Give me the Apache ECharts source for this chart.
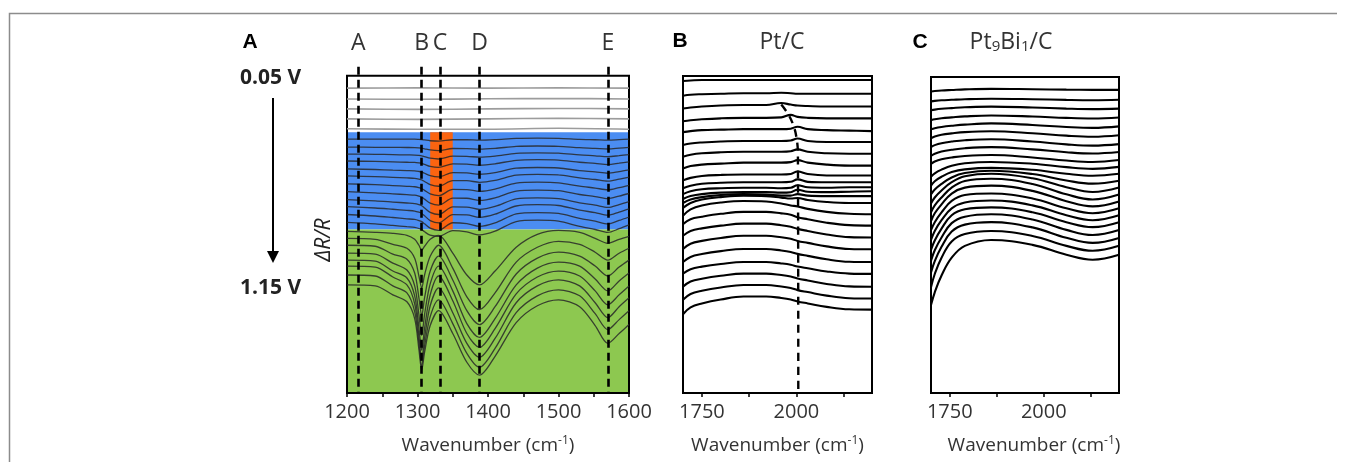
<!DOCTYPE html>
<html>
<head>
<meta charset="utf-8">
<script src="https://cdn.jsdelivr.net/npm/echarts@6/dist/echarts.min.js"></script>
<style>
  html, body { margin: 0; padding: 0; background: #fff; }
  #main { width: 1346px; height: 462px; }
</style>
</head>
<body>
<div id="main"></div>
<script>
// ---- panel A : spectra 1200-1600 cm-1 (values = depth below top of box) ----
var waveGrayA = [1200, 1300, 1400, 1500, 1600];
var grayCurvesA = [
    [12.5, 12.3, 12.5, 12.3, 12.5],
    [23.5, 23.8, 23.3, 23, 23.5],
    [33.5, 34, 33.5, 33, 33.5],
    [43.5, 44, 43.5, 43, 43.5],
    [53.5, 54, 54, 53, 54]
];

var waveA = [1200, 1240, 1265, 1285, 1296, 1302, 1306, 1310, 1318, 1330, 1350,
             1370, 1388, 1410, 1440, 1470, 1500, 1530, 1552, 1570, 1586, 1600];

var blueCurvesA = [
    [64, 64, 64, 64, 64, 64.2, 64.4, 64.8, 65.6, 66, 64.6, 64.6, 65, 64.5, 63.3, 63, 63.2, 64.2, 64.6, 65, 64.5, 64],
    [72, 72.2, 72.3, 72.4, 72.5, 72.8, 73.1, 73.7, 74.9, 75.5, 73.4, 73.5, 74.1, 73.3, 71.3, 70.9, 71.2, 72.6, 73.2, 73.9, 73.1, 72.3],
    [79, 79.3, 79.6, 79.9, 80, 80.4, 80.8, 81.6, 83.2, 84, 81.2, 81.3, 82.2, 81.1, 78.3, 77.8, 78.1, 79.9, 80.8, 81.7, 80.6, 79.5],
    [86, 86.5, 86.9, 87.3, 87.5, 88, 88.5, 89.5, 91.5, 92.5, 89, 89.2, 90.3, 88.9, 85.3, 84.7, 85.1, 87.3, 88.4, 89.6, 88.2, 86.8],
    [94, 94.6, 95.2, 95.7, 96, 96.6, 97.2, 98.4, 100.8, 102, 97.8, 98, 99.4, 97.7, 93.3, 92.6, 93.1, 95.7, 97, 98.4, 96.7, 95],
    [101, 101.8, 102.5, 103.1, 103.5, 104.3, 105.1, 106.7, 109.9, 111.5, 105.9, 105.9, 107.5, 105.5, 100.3, 99.5, 100.1, 103.1, 104.7, 106.3, 104.3, 102.3],
    [109, 109.9, 110.8, 111.6, 112, 112.9, 113.8, 115.6, 119.2, 121, 114.7, 114.8, 116.6, 114.3, 108.3, 107.4, 108, 111.4, 113.3, 115.1, 112.8, 110.5],
    [117, 118.1, 119.1, 120, 120.5, 121.5, 122.5, 124.5, 128.5, 130.5, 123.5, 123.6, 125.7, 123.1, 116.3, 115.3, 116, 119.8, 121.9, 124, 121.4, 118.8],
    [125, 126.2, 127.4, 128.4, 129, 130.1, 131.2, 133.4, 137.8, 140, 132.3, 132.5, 134.8, 131.9, 124.3, 123.2, 124, 128.2, 130.5, 132.8, 129.9, 127],
    [132, 133.4, 134.7, 135.8, 136.5, 137.7, 138.9, 141.3, 146.1, 148.5, 140.1, 140.3, 142.9, 139.7, 131.4, 130.1, 130.9, 135.5, 138.1, 140.7, 137.5, 134.3],
    [140, 141.5, 143, 144.3, 145, 146.1, 147.2, 149.4, 153.8, 156, 148.3, 149.2, 152, 148.5, 139.4, 138, 138.9, 143.9, 146.7, 149.5, 146, 142.5],
    [148, 149.5, 151, 152.3, 153, 154.1, 155.2, 157.4, 160.8, 162, 156.3, 157.6, 160.6, 156.8, 147.1, 145.7, 146.6, 152, 155.1, 158.1, 154.3, 150.5]
];

var greenCurvesA = [
    [157, 158, 159, 161, 165, 171, 176, 172, 165, 161, 179, 201, 211, 197, 173, 160, 156, 158, 164, 169, 165, 162],
    [164, 165, 170, 174, 184, 202, 214, 201, 182, 171, 194, 223, 236, 219, 188, 173, 167, 170, 178, 186, 179, 174],
    [171, 172, 180, 185, 199, 224, 242, 224, 197, 182, 206, 237, 251, 233, 200, 184, 178, 182, 192, 202, 193, 186],
    [179, 180, 189, 196, 212, 241, 262, 241, 210, 192, 217, 250, 264, 245, 211, 194, 188, 192, 205, 217, 207, 199],
    [186, 187, 197, 204, 222, 254, 277, 255, 221, 202, 227, 260, 274, 255, 220, 203, 197, 202, 217, 231, 221, 212],
    [192, 193, 203, 211, 230, 263, 287, 265, 232, 214, 239, 270, 284, 265, 229, 212, 206, 212, 229, 244, 233, 224],
    [201, 202, 212, 219, 238, 270, 293, 273, 243, 226, 250, 280, 294, 275, 239, 222, 216, 222, 240, 256, 246, 237],
    [211, 212, 221, 228, 245, 276, 297, 279, 252, 237, 260, 289, 302, 283, 249, 232, 226, 233, 252, 270, 260, 251]
];

var guideWaveA = [1216, 1306, 1332, 1388, 1570];
var guideLetters = ['A', 'B', 'C', 'D', 'E'];

// ---- panel B : Pt/C ----
var waveB = [1700, 1720, 1750, 1800, 1860, 1920, 1960, 1985, 2003, 2030, 2080, 2140, 2200];
var curvesB = [
    [5, 4.5, 4, 4, 4, 4, 4, 4, 4, 4, 4, 4, 4],
    [20, 19, 18.5, 18, 17.5, 17.5, 17, 17.5, 18, 18, 18, 18, 18],
    [33, 32, 31, 30, 29.5, 29.5, 27.5, 29, 30, 30.5, 31, 31, 31],
    [46, 45, 44, 43, 42.5, 42.5, 42, 39.5, 41.5, 42.5, 43, 43, 43],
    [57, 56, 55, 54.5, 54, 54, 54, 53.5, 51.5, 54, 55, 55.5, 56],
    [70, 68.5, 67.5, 66.5, 66, 66, 66, 65.5, 63.5, 66, 67, 67, 67],
    [82, 80, 78.5, 77.5, 77, 77, 77, 76.5, 74.5, 77, 78.5, 79, 79],
    [94, 91.5, 90, 89, 88, 88, 88, 87.5, 85.5, 88, 90, 91, 91],
    [106, 103.5, 101.5, 100.5, 100, 100, 100, 99.5, 97, 99.5, 101, 101, 101],
    [114, 111.5, 109.5, 108.5, 108, 108, 108, 107.5, 105, 107.5, 108, 108, 108],
    [120, 117, 115, 114, 113.5, 113.5, 114, 113.5, 111, 113, 113.5, 113, 113],
    [125, 122, 120, 118.5, 118, 118, 118.5, 118, 115.5, 117.5, 118, 117.5, 117],
    [129, 125.5, 123, 121, 120, 120.5, 121.5, 121.5, 120, 121.5, 122, 122, 122],
    [134, 129, 125.5, 123, 121.5, 122, 123.5, 124.5, 124, 126, 128, 129, 129],
    [142, 135.5, 131.5, 128.5, 127, 127.5, 129.5, 131.5, 132.5, 135, 138, 140, 140.5],
    [150.5, 145.5, 143, 140, 138, 138, 139.5, 141, 143.5, 145.5, 149, 151.5, 152],
    [162.3, 157.5, 154.8, 152, 150, 150, 151.6, 153.2, 155.3, 157.4, 161, 163.7, 164],
    [175.7, 170.4, 167.5, 164.5, 162.3, 162.3, 163.8, 165.4, 167.5, 169.5, 173.1, 175.7, 176],
    [189, 183.8, 180.9, 177.9, 175.7, 175.7, 177.2, 178.7, 180.7, 182.7, 186.2, 188.7, 189],
    [200.7, 196.2, 193.6, 191, 189, 189, 190.4, 191.7, 193.5, 195.3, 198.5, 200.7, 201],
    [214, 208.8, 205.9, 202.9, 200.7, 200.7, 202.2, 203.7, 205.7, 207.7, 211.2, 213.7, 214],
    [227.3, 221.4, 218.1, 214.8, 212.3, 212.3, 213.8, 215.4, 217.5, 219.5, 223.1, 225.7, 226],
    [242, 235, 231, 227, 224, 224, 225.5, 227, 229, 231, 234.5, 237, 237.3]
];
// peak-shift guide (wavenumber, depth)
var guideB = [[1960, 29], [1977, 38], [1991, 49], [2000, 62], [2004, 80], [2005, 322]];

// ---- panel C : Pt9Bi1/C ----
var waveC = [1700, 1710, 1728, 1755, 1790, 1860, 1970, 2060, 2130, 2200];
var curvesC = [
    [14.7, 14.2, 13.6, 13.1, 12.5, 12, 12.4, 12.8, 13, 13],
    [24.7, 24.2, 23.6, 23.1, 22.5, 22, 22.5, 23.2, 23.5, 23],
    [33.7, 33, 32.2, 31.5, 30.7, 30, 30.9, 32, 32.5, 32],
    [43.7, 42.8, 41.8, 40.9, 39.9, 39, 40, 41.4, 42, 41],
    [53, 51.8, 50.6, 49.4, 48.2, 47, 48.6, 50.6, 51.5, 50],
    [62, 60.3, 58.5, 57.1, 55.8, 55, 56.9, 59.4, 60.5, 59],
    [71, 69, 67, 65.4, 64, 63, 65.3, 68.2, 69.5, 68],
    [80, 77.8, 75.5, 73.7, 72.1, 71, 73.3, 76.2, 77.5, 76],
    [88, 85.5, 83.2, 81.5, 80, 79, 81.5, 84.6, 86, 84],
    [101, 97.5, 93.8, 89.8, 87.3, 86, 87.8, 91.3, 93, 91],
    [110, 105.5, 101, 96.3, 93.5, 92, 94, 98, 100, 98],
    [119, 114, 108.3, 101.7, 97.3, 95, 98.3, 104.8, 108, 105],
    [128, 122, 115, 106.5, 100.5, 98, 102.6, 111.6, 116.5, 112],
    [137, 130, 122, 112, 105.3, 103, 108.3, 118.8, 124, 119],
    [146, 138, 129, 118, 112, 110, 115.3, 125.8, 131, 126],
    [155, 147, 137, 125.5, 119.5, 118, 123, 133, 138, 133],
    [165, 156, 145, 133, 127, 125, 130, 140, 145, 140],
    [175, 165.5, 153.5, 140, 134, 132, 137, 147, 152, 147],
    [186, 175.5, 162.5, 148, 141.5, 139, 144.3, 154.8, 160, 155],
    [198, 186.5, 172, 156.5, 149.5, 147, 152.3, 162.8, 168, 163],
    [213, 199.5, 183, 166.5, 159, 156, 161, 171, 176, 171],
    [231, 218, 201, 183, 171, 165, 170, 180, 185, 180]
];

var FONT = '"Open Sans", "DejaVu Sans", sans-serif';
var TEXT = '#333';

function pairs(xs, ys) {
    var out = [];
    for (var i = 0; i < xs.length; i++) {
        out.push([xs[i], ys[i]]);
    }
    return out;
}

function waveAxis(idx, min, max) {
    return {
        gridIndex: idx,
        type: 'value',
        min: min,
        max: max,
        splitLine: { show: false },
        axisLine: { show: true, onZero: false, lineStyle: { color: '#000', width: 2 } },
        axisTick: { show: true, length: 4, lineStyle: { color: '#000', width: 1.5 } },
        axisLabel: { fontSize: 20, color: TEXT, fontFamily: FONT, margin: 9,
                     formatter: function (v) { return String(v); } },
        name: 'Wavenumber (cm{sup|-1})',
        nameLocation: 'middle',
        nameGap: 42,
        nameTextStyle: {
            fontSize: 19, color: TEXT, fontFamily: FONT, lineHeight: 22,
            rich: { sup: { fontSize: 12, fontFamily: FONT, color: TEXT, verticalAlign: 'top', lineHeight: 22 } }
        }
    };
}

var xA = waveAxis(0, 1200, 1600);
xA.interval = 50;
xA.axisLabel.formatter = function (v) { return v % 100 === 0 ? String(v) : ''; };

var xB = waveAxis(1, 1700, 2200);
xB.axisTick.customValues = [1750, 1875, 2000, 2125];
xB.axisLabel.customValues = [1750, 2000];

var xC = waveAxis(2, 1700, 2200);
xC.axisTick.customValues = [1750, 1875, 2000, 2125];
xC.axisLabel.customValues = [1750, 2000];
xC.nameTextStyle.padding = [0, 0, 0, 18];

var series = [];

// background bands and highlighted column of panel A
series.push({
    type: 'line', xAxisIndex: 0, yAxisIndex: 0, z: 1, silent: true,
    symbol: 'none', data: [[1200, 0]], lineStyle: { opacity: 0 },
    markArea: {
        silent: true,
        data: [
            [{ coord: [1200, 57], itemStyle: { color: '#4b8df2' } }, { coord: [1600, 155] }],
            [{ coord: [1200, 155], itemStyle: { color: '#8dc850' } }, { coord: [1600, 320] }],
            [{ coord: [1318, 57], itemStyle: { color: '#fb6410' } }, { coord: [1350, 155] }]
        ]
    }
});

grayCurvesA.forEach(function (c) {
    series.push({
        type: 'line', xAxisIndex: 0, yAxisIndex: 0, z: 2, silent: true,
        symbol: 'none', smooth: 0.3, data: pairs(waveGrayA, c),
        lineStyle: { color: '#9c9c9c', width: 1.6 }
    });
});
blueCurvesA.concat(greenCurvesA).forEach(function (c) {
    series.push({
        type: 'line', xAxisIndex: 0, yAxisIndex: 0, z: 2, silent: true,
        symbol: 'none', smooth: 0.3, data: pairs(waveA, c),
        lineStyle: { color: 'rgba(40,40,40,0.85)', width: 1.3 }
    });
});

// dashed guide lines with their letters
series.push({
    type: 'line', xAxisIndex: 0, yAxisIndex: 0, z: 4, silent: true,
    symbol: 'none', data: [[1200, 0]], lineStyle: { opacity: 0 },
    markLine: {
        silent: true,
        symbol: ['none', 'none'],
        lineStyle: { color: '#000', width: 2.6, type: [8, 5] },
        label: { show: true, position: 'start', formatter: '{b}', distance: 12,
                 fontSize: 23, color: TEXT, fontFamily: FONT },
        data: guideWaveA.map(function (w, i) {
            return [{ coord: [w, -9], name: guideLetters[i] }, { coord: [w, 320] }];
        })
    }
});

// frame of panel A
series.push({
    type: 'line', xAxisIndex: 0, yAxisIndex: 0, z: 6, silent: true,
    symbol: 'none', data: [[1200, 0]], lineStyle: { opacity: 0 },
    markArea: {
        silent: true,
        data: [[{ coord: [1200, 0], itemStyle: { color: 'rgba(0,0,0,0)', borderColor: '#000', borderWidth: 2 } },
                { coord: [1600, 320] }]]
    }
});

curvesB.forEach(function (c) {
    series.push({
        type: 'line', xAxisIndex: 1, yAxisIndex: 1, z: 2, silent: true,
        symbol: 'none', smooth: 0.4, data: pairs(waveB, c),
        lineStyle: { color: '#000', width: 2.1 }
    });
});
series.push({
    type: 'line', xAxisIndex: 1, yAxisIndex: 1, z: 4, silent: true,
    symbol: 'none', smooth: 0.4, data: guideB,
    lineStyle: { color: '#000', width: 2.4, type: [8, 6] }
});

curvesC.forEach(function (c) {
    series.push({
        type: 'line', xAxisIndex: 2, yAxisIndex: 2, z: 2, silent: true,
        symbol: 'none', smooth: 0.4, data: pairs(waveC, c),
        lineStyle: { color: '#000', width: 2.1 }
    });
});

function panelLetter(txt, x, y) {
    return {
        type: 'text', silent: true, x: x, y: y,
        style: { text: txt, fontSize: 21, fontWeight: 'bold', fontFamily: '"Liberation Sans", Arial, sans-serif',
                 fill: '#000', align: 'center', verticalAlign: 'middle' }
    };
}

var chart = echarts.init(document.getElementById('main'), null, { renderer: 'canvas' });

var option = {
    animation: false,
    backgroundColor: '#fff',
    grid: [
        { left: 347, top: 41, width: 282, height: 355 },
        { left: 683, top: 76, width: 189, height: 322, show: true, borderColor: '#000', borderWidth: 2 },
        { left: 931, top: 77, width: 188, height: 320, show: true, borderColor: '#000', borderWidth: 2 }
    ],
    xAxis: [xA, xB, xC],
    yAxis: [
        { gridIndex: 0, type: 'value', min: -35, max: 320, inverse: true, show: false },
        { gridIndex: 1, type: 'value', min: 0, max: 322, inverse: true, show: false },
        { gridIndex: 2, type: 'value', min: 0, max: 320, inverse: true, show: false }
    ],
    series: series,
    graphic: [
        { type: 'polyline', silent: true, shape: { points: [[9.5, 470], [9.5, 13.5], [1337, 13.5]] },
          style: { stroke: '#8c8c8c', lineWidth: 1.5, fill: 'none' } },
        panelLetter('A', 250, 42),
        panelLetter('B', 680, 41),
        panelLetter('C', 920, 42),
        { type: 'text', silent: true, x: 240, y: 78,
          style: { text: '0.05 V', fontSize: 21, fontWeight: 'bold', fontFamily: FONT, fill: '#222', align: 'left', verticalAlign: 'middle' } },
        { type: 'text', silent: true, x: 240, y: 288,
          style: { text: '1.15 V', fontSize: 21, fontWeight: 'bold', fontFamily: FONT, fill: '#222', align: 'left', verticalAlign: 'middle' } },
        { type: 'line', silent: true, shape: { x1: 273, y1: 98, x2: 273, y2: 254 },
          style: { stroke: '#000', lineWidth: 2 } },
        { type: 'polygon', silent: true, shape: { points: [[267, 251], [279, 251], [273, 263]] },
          style: { fill: '#000' } },
        { type: 'text', silent: true, x: 324, y: 240, rotation: Math.PI / 2,
          style: { text: '\u0394R/R', fontSize: 21, fontStyle: 'italic', fontFamily: FONT, fill: '#222', align: 'center', verticalAlign: 'middle' } },
        { type: 'text', silent: true, x: 782, y: 42,
          style: { text: 'Pt/C', fontSize: 23, fontFamily: FONT, fill: TEXT, align: 'center', verticalAlign: 'middle' } },
        { type: 'text', silent: true, x: 1011, y: 42,
          style: { text: 'Pt{s|9}Bi{s|1}/C', fontSize: 23, fontFamily: FONT, fill: TEXT, align: 'center', verticalAlign: 'middle',
                   rich: { s: { fontSize: 15, fontFamily: FONT, fill: TEXT, verticalAlign: 'bottom', padding: [10, 0, 0, 0] } } } }
    ]
};

chart.setOption(option);
</script>
</body>
</html>
